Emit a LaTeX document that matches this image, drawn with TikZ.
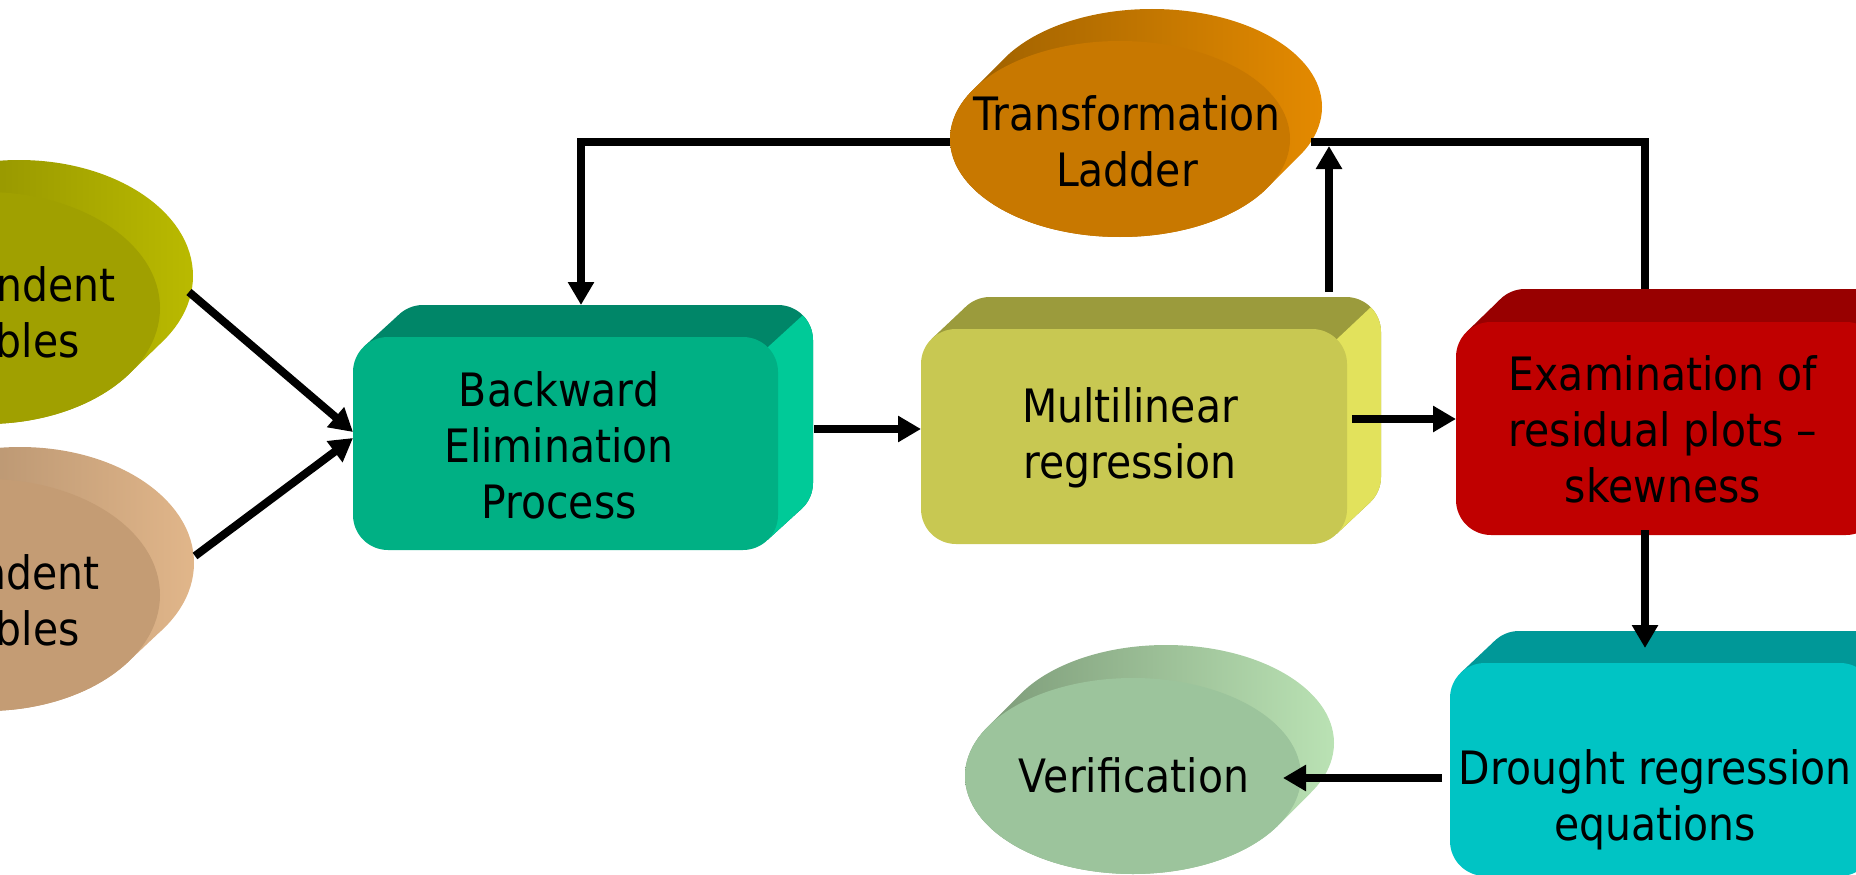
\documentclass[tikz,border=0pt]{standalone}
\usepackage{fontspec}
\setmainfont{DejaVu Sans}[FakeStretch=0.89]
\usetikzlibrary{arrows.meta}
\definecolor{bepF}{RGB}{0,176,132}\definecolor{bepT}{RGB}{0,134,104}\definecolor{bepS}{RGB}{0,202,152}
\definecolor{mlrF}{RGB}{200,200,82}\definecolor{mlrT}{RGB}{155,155,60}\definecolor{mlrS}{RGB}{226,226,92}
\definecolor{exaF}{RGB}{192,0,0}\definecolor{exaT}{RGB}{152,0,0}\definecolor{exaS}{RGB}{215,0,0}
\definecolor{drgF}{RGB}{0,196,196}\definecolor{drgT}{RGB}{0,152,152}\definecolor{drgS}{RGB}{0,215,215}
\definecolor{tlF}{RGB}{200,120,0}\definecolor{tlD}{RGB}{155,95,0}\definecolor{tlL}{RGB}{228,138,0}
\definecolor{verF}{RGB}{156,196,156}\definecolor{verD}{RGB}{122,152,118}\definecolor{verL}{RGB}{186,226,180}
\definecolor{indF}{RGB}{160,160,0}\definecolor{indD}{RGB}{122,122,0}\definecolor{indL}{RGB}{186,186,0}
\definecolor{depF}{RGB}{196,156,116}\definecolor{depD}{RGB}{156,126,96}\definecolor{depL}{RGB}{225,182,138}
% extruded rounded box: x1 y1 x2 y2 dx dy front top side
\newcommand\xbox[9]{%
 \fill[#8, rounded corners=35pt] ({#1+#5},{#2+#6}) rectangle ({#3+#5},{#4+#6});
 \fill[#8] ({#1+10.25},{#2+10.25}) -- ++(#5,#6) -- ({#3-10.25+#5},{#4-10.25+#6}) -- ({#3-10.25},{#4-10.25}) -- cycle;
 \fill[#9] ({#3-10.25},{#2+10.25}) -- ++(#5,#6) arc[start angle=-45,end angle=0,radius=35]
   -- ({#3+#5},{#4-35+#6}) arc[start angle=0,end angle=45,radius=35] -- ({#3-10.25},{#4-10.25}) -- cycle;
 \fill[#7, rounded corners=35pt] (#1,#2) rectangle (#3,#4);
}
% extruded ellipse: cx cy a b dx dy front dark light
\newcommand\xell[9]{%
 \pgfmathsetmacro\hh{10*sqrt((#3/10)^2+(#4/10)^2)}%
 \pgfmathsetmacro\pp{#3*(#3/\hh)}%
 \pgfmathsetmacro\qq{#4*(#4/\hh)}%
 \shade[left color=#8, right color=#9] ({#1+#5},{#2+#6}) ellipse[x radius=#3, y radius=#4]
   ({#1-\pp},{#2-\qq}) -- ++(#5,#6) -- ({#1+\pp+#5},{#2+\qq+#6}) -- ({#1+\pp},{#2+\qq}) -- cycle
   (#1,#2) ellipse[x radius=#3, y radius=#4];
 \fill[#7] (#1,#2) ellipse[x radius=#3, y radius=#4];
}
\begin{document}
\begin{tikzpicture}[x=1pt,y=-1pt,
  txt/.style={align=center, inner sep=0pt, font=\fontsize{46}{56}\selectfont, text=black},
  conn/.style={line width=8pt, -{Triangle[length=23pt,width=25pt]}},
  link/.style={line width=8pt}]
\useasboundingbox (0,0) rectangle (1856,875);
\clip (0,0) rectangle (1856,875);
% shapes
\xell{-14}{308}{174}{116}{33}{-32}{indF}{indD}{indL}
\xell{-14}{595}{174}{116}{34}{-32}{depF}{depD}{depL}
\xell{1120}{139}{170}{98}{32}{-32}{tlF}{tlD}{tlL}
\xell{1133}{776}{168}{98}{33}{-33}{verF}{verD}{verL}
\xbox{353}{337}{778}{550}{35}{-32}{bepF}{bepT}{bepS}
\xbox{921}{329}{1347}{544}{34}{-32}{mlrF}{mlrT}{mlrS}
\xbox{1456}{322}{1881}{535}{34}{-33}{exaF}{exaT}{exaS}
\xbox{1450}{663}{1875}{876}{34}{-32}{drgF}{drgT}{drgS}
% texts
\node[txt] (ind) at (-14,312) {Independent\\Variables};
\node[txt] (dep) at (-14,600) {Dependent\\Variables};
\node[txt] (tl) at (1127,141) {Transformation\\Ladder};
\node[txt] (bep) at (559,445) {Backward\\Elimination\\Process};
\node[txt] (mlr) at (1130,438) {Multilinear\\regression};
\node[txt] (exa) at (1663,429) {Examination of\\residual plots --\\skewness};
\node[txt] (drg) at (1655,800) {Drought regression\\equations};
\node[txt] (ver) at (1134,775) {Verification};
% connection points
\coordinate (ind-e) at (189,292);
\coordinate (dep-e) at (195,556);
\coordinate (bep-w1) at (353,432);
\coordinate (bep-w2) at (353,438);
\coordinate (bep-e) at (814,429);
\coordinate (bep-n) at (581,305);
\coordinate (mlr-w) at (921,429);
\coordinate (mlr-e) at (1352,419);
\coordinate (mlr-n) at (1329,292);
\coordinate (exa-w) at (1456,419);
\coordinate (exa-n) at (1645,289);
\coordinate (exa-s) at (1645,530);
\coordinate (tl-w) at (950,142);
\coordinate (tl-e) at (1311,142);
\coordinate (junc) at (1329,146);
\coordinate (drg-n) at (1645,648);
\coordinate (drg-w) at (1442,778);
\coordinate (ver-e) at (1283,778);
% connectors
\draw[conn] (ind-e) -- (bep-w1);
\draw[conn] (dep-e) -- (bep-w2);
\draw[conn] (bep-e) -- (mlr-w);
\draw[conn] (mlr-e) -- (exa-w);
\draw[conn] (mlr-n) -- (junc);
\draw[link] (exa-n) |- (tl-e);
\draw[conn] (tl-w) -| (bep-n);
\draw[conn] (exa-s) -- (drg-n);
\draw[conn] (drg-w) -- (ver-e);
\end{tikzpicture}
\end{document}
